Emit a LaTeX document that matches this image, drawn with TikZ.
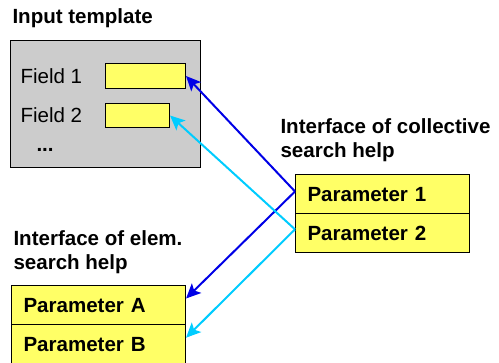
\documentclass[tikz,border=0pt]{standalone}
\usepackage{fontspec}
\setmainfont{Liberation Sans}
\usetikzlibrary{arrows.meta, positioning}

\definecolor{fieldyellow}{RGB}{255,255,102}
\definecolor{tplgray}{RGB}{204,204,204}
\definecolor{darkarrow}{RGB}{0,0,230}
\definecolor{lightarrow}{RGB}{0,204,255}

\begin{document}
\begin{tikzpicture}[x=0.75pt, y=-0.75pt, line width=0.8pt,
    >={Stealth[length=11pt, width=10pt, inset=2.5pt]},
    txt/.style={font=\fontsize{15.4}{18}\selectfont, inner sep=0pt},
    title/.style={txt, font=\fontsize{15.4}{18}\selectfont\bfseries, align=left, anchor=north west},
    fieldbox/.style={draw, fill=fieldyellow, anchor=north west, inner sep=0pt},
    parambox/.style={draw, fill=fieldyellow, font=\fontsize{15.4}{18}\selectfont\bfseries,
        minimum width=130.5pt, minimum height=29.4pt, text width=112.5pt, inner xsep=9pt,
        align=left, anchor=north west}]
                \useasboundingbox (0,0) rectangle (499,362);

                % input template
                \node[title] (tpltitle) at (12,8) {Input template};
                \node[draw, fill=tplgray, anchor=north west, minimum width=142.5pt, minimum height=95.25pt] (tpl) at (10,40) {};
                \node[fieldbox, minimum width=60pt, minimum height=18.75pt] (field1) at (105,63) {};
                \node[fieldbox, minimum width=48pt, minimum height=18pt] (field2) at (105,103) {};
                \node[txt, anchor=west] (f1label) at (20,76) {Field 1};
                \node[txt, anchor=west] (f2label) at (20,115) {Field 2};
                \node[txt, anchor=west, font=\fontsize{15.4}{18}\selectfont\bfseries] (dots) at (36,150) {...};

                % collective search help
                \node[title] (colltitle) at (280,118) {Interface of collective\\search help};
                \node[parambox] (par1) at (295,174) {Parameter 1};
                \node[parambox, below=-0.8pt of par1] (par2) {Parameter 2};

                % elementary search help
                \node[title] (elemtitle) at (13,230) {Interface of elem.\\search help};
                \node[parambox] (parA) at (11,285) {Parameter A};
                \node[parambox, below=-0.8pt of parA] (parB) {Parameter B};

                \draw[->, darkarrow, line width=1.5pt] ([yshift=2pt]par1.west) -- (field1.east);
                \draw[->, darkarrow, line width=1.5pt] ([yshift=2pt]par1.west) -- ([yshift=5pt]parA.east);
                \draw[->, lightarrow, line width=1.5pt] ([yshift=3pt]par2.west) -- (field2.east);
                \draw[->, lightarrow, line width=1.5pt] ([yshift=3pt]par2.west) -- ([yshift=5pt]parB.east);
\end{tikzpicture}
\end{document}
